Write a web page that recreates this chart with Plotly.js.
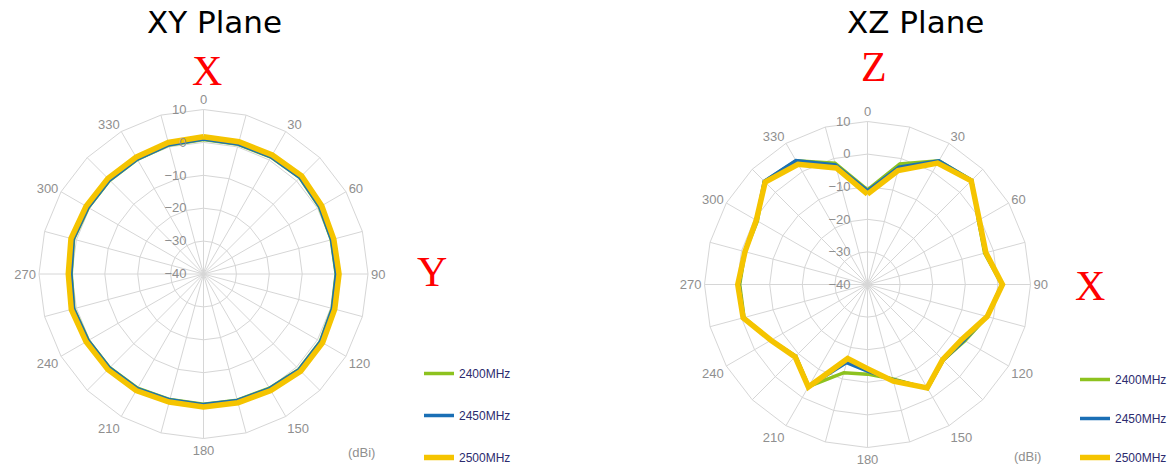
<!DOCTYPE html>
<html><head><meta charset="utf-8">
<script src="https://cdn.plot.ly/plotly-3.0.1.min.js"></script>
<style>html,body{margin:0;padding:0;background:#fff}#chart{width:1173px;height:472px}</style>
</head><body><div id="chart"></div>
<script>
// Angular categories (degrees) and their tick labels
const angles = ['0','15','30','45','60','75','90','105','120','135','150','165','180','195','210','225','240','255','270','285','300','315','330','345'];
const angleLabels = ['0','','30','','60','','90','','120','','150','','180','','210','','240','','270','','300','','330',''];
const radialTicks = [-40,-30,-20,-10,0,10];
const seriesNames = ['2400MHz','2450MHz','2500MHz'];
const seriesColors = ['#8dc21f','#1a6fb5','#f5c400'];

// XY plane gain (dBi)
const xy2400 = [0.9,0.8,1.0,1.4,0.7,0.2,0.3,0.5,1.0,1.0,0.1,-0.3,-0.4,-0.5,0.1,0.3,0.4,0.8,0.2,0.9,0.4,0.3,0.2,0.6];
const xy2450 = [1.0,0.9,1.1,1.5,0.8,0.3,0.4,0.6,1.1,1.1,0.2,-0.2,-0.3,-0.4,0.2,0.4,0.5,0.9,0.3,1.0,0.5,0.4,0.3,0.7];
const xy2500 = [1.7,1.6,1.8,2.2,1.5,1.0,1.2,1.3,1.8,1.8,0.9,0.5,0.4,0.3,0.9,1.1,1.2,1.6,1.1,1.7,1.2,1.1,1.0,1.4];

// XZ plane gain (dBi)
const xz2400 = [-11.0,-1.7,3.8,5.2,-0.7,-2.8,1.2,-2.0,-5.5,-7.2,-3.2,-10.0,-12.5,-12.0,-3.9,-8.9,-5.8,-0.8,-0.8,-1.1,-1.0,4.7,3.8,-1.5];
const xz2450 = [-11.3,-2.7,3.8,5.2,-0.6,-2.6,1.3,-2.1,-5.8,-7.2,-3.2,-9.8,-13.4,-15.2,-3.9,-8.8,-5.8,-0.6,-0.6,-1.0,-0.7,4.8,3.9,-2.0];
const xz2500 = [-12.3,-3.8,3.0,5.0,-0.4,-2.4,1.4,-2.0,-6.5,-7.4,-3.4,-9.3,-14.2,-16.5,-3.7,-8.6,-5.8,-0.5,-0.2,-1.1,-0.6,4.4,2.6,-3.0];

const widths = [3.5,3.5,5.5];
function closeLoop(a){ return a.concat([a[0]]); }

const traces = [];
[xy2400, xy2450, xy2500].forEach((vals,i)=>{
  traces.push({type:'scatterpolar', mode:'lines', subplot:'polar', legend:'legend',
    legendgroup:'a'+i, name:seriesNames[i], theta:closeLoop(angles), r:closeLoop(vals),
    line:{color:seriesColors[i], width:widths[i]}, hoverinfo:'skip'});
});
[xz2400, xz2450, xz2500].forEach((vals,i)=>{
  traces.push({type:'scatterpolar', mode:'lines', subplot:'polar2', legend:'legend2',
    legendgroup:'b'+i, name:seriesNames[i], theta:closeLoop(angles), r:closeLoop(vals),
    line:{color:seriesColors[i], width:widths[i]}, hoverinfo:'skip'});
});

const gridCol = '#d6d6d6';
const tickFont = {family:'Liberation Sans, Arial, sans-serif', size:13, color:'#8f8f8f'};
function polarCfg(dm){
  return {
    domain:dm,
    gridshape:'linear',
    bgcolor:'rgba(0,0,0,0)',
    radialaxis:{range:[-40,10], tickmode:'array', tickvals:radialTicks, angle:90, side:'counterclockwise', tickangle:90,
      showline:false, ticks:'outside', ticklen:12, tickcolor:'rgba(0,0,0,0)', gridcolor:gridCol, gridwidth:1, tickfont:tickFont},
    angularaxis:{type:'category', categoryorder:'array', categoryarray:angles, rotation:90, direction:'clockwise',
      tickmode:'array', tickvals:angles, ticktext:angleLabels, ticks:'', gridcolor:gridCol, gridwidth:1,
      showline:true, linecolor:gridCol, linewidth:1, tickfont:tickFont}
  };
}

function dom(cx, cy, r){
  return {x:[(cx-r)/1173, (cx+r)/1173], y:[1-(cy+r)/472, 1-(cy-r)/472]};
}

const legFont = {family:'Liberation Sans, Arial, sans-serif', size:12, color:'#2c2b6e'};
const layout = {
  width:1173, height:472, margin:{l:0,r:0,t:0,b:0},
  paper_bgcolor:'#fff', plot_bgcolor:'#fff', showlegend:true,
  polar: polarCfg(dom(203.5, 274, 164.5)),
  polar2: polarCfg(dom(867.5, 284.5, 163)),
  legend:{x:419/1173, y:0, xanchor:'left', yanchor:'bottom', bgcolor:'rgba(0,0,0,0)', font:legFont, tracegroupgap:23},
  legend2:{x:1075/1173, y:0, xanchor:'left', yanchor:'bottom', bgcolor:'rgba(0,0,0,0)', font:legFont, tracegroupgap:20},
  annotations:[
    {text:'XY Plane', x:214, y:22},
    {text:'XZ Plane', x:915, y:22},
    {text:'X', x:207, y:71, red:true},
    {text:'Y', x:432, y:272, red:true},
    {text:'Z', x:874, y:67, red:true},
    {text:'X', x:1090, y:286, red:true},
    {text:'(dBi)', x:361, y:452, small:true},
    {text:'(dBi)', x:1027, y:456, small:true}
  ].map(a=>{
    const o = {text:a.text, x:a.x/1173, y:1-a.y/472, xref:'paper', yref:'paper', xanchor:'center', yanchor:'middle', showarrow:false};
    if(a.red) o.font = {family:'Liberation Serif, Times New Roman, serif', size:42, color:'#ff0000'};
    else if(a.small) o.font = tickFont;
    else o.font = {family:'DejaVu Sans, Verdana, sans-serif', size:31, color:'#000'};
    return o;
  })
};

Plotly.newPlot('chart', traces, layout, {displayModeBar:false, staticPlot:true});
</script>
</body></html>
